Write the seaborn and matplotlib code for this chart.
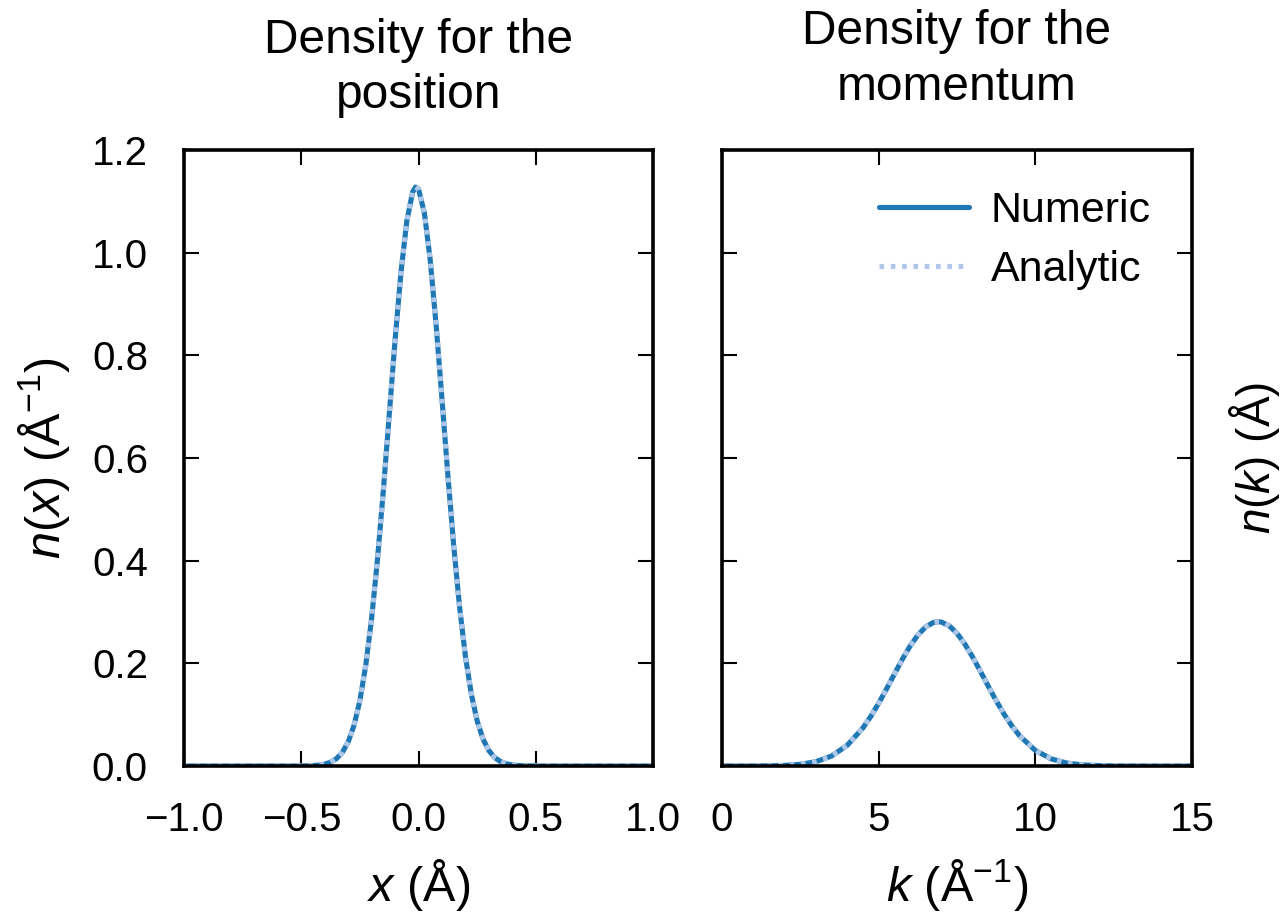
import matplotlib
matplotlib.use("Agg")
import matplotlib.pyplot as plt
import seaborn as sns
import pandas as pd

# ---- data ----
x_pos = [-1.0, -0.5, -0.45, -0.425, -0.40, -0.375, -0.35, -0.325, -0.30, -0.275, -0.25,
         -0.225, -0.20, -0.175, -0.15, -0.125, -0.10, -0.075, -0.05, -0.025, -0.0125,
         0.0, 0.025, 0.05, 0.075, 0.10, 0.125, 0.15, 0.175, 0.20, 0.225, 0.25, 0.275,
         0.30, 0.325, 0.35, 0.375, 0.40, 0.425, 0.45, 0.5, 1.0]
n_pos_numeric = [0.0, 0.0, 0.0007, 0.0017, 0.0036, 0.0073, 0.0143, 0.0265, 0.0469, 0.0793,
                 0.1278, 0.1965, 0.2881, 0.4031, 0.5376, 0.6842, 0.8305, 0.9615, 1.0618,
                 1.1184, 1.1277, 1.1237, 1.0770, 0.9844, 0.8584, 0.7139, 0.5664, 0.4285,
                 0.3093, 0.2130, 0.1399, 0.0876, 0.0523, 0.0298, 0.0162, 0.0084, 0.0042,
                 0.0020, 0.0009, 0.0004, 0.0, 0.0]
n_pos_analytic = list(n_pos_numeric)

k_mom = [0.0, 0.5, 1.0, 1.5, 2.0, 2.5, 3.0, 3.5, 4.0, 4.5, 4.75, 5.0, 5.25, 5.5, 5.75,
         6.0, 6.25, 6.5, 6.75, 6.9, 7.0, 7.25, 7.5, 7.75, 8.0, 8.25, 8.5, 8.75, 9.0,
         9.25, 9.5, 10.0, 10.5, 11.0, 11.5, 12.0, 12.5, 13.0, 14.0, 15.0]
n_mom_numeric = [0.0, 0.0, 0.0001, 0.0003, 0.0011, 0.0032, 0.0083, 0.0194, 0.0402, 0.0741,
                 0.0964, 0.1219, 0.1497, 0.1785, 0.2069, 0.2330, 0.2548, 0.2708, 0.2795,
                 0.2810, 0.2804, 0.2732, 0.2586, 0.2377, 0.2124, 0.1843, 0.1554, 0.1273,
                 0.1013, 0.0783, 0.0588, 0.0304, 0.0140, 0.0057, 0.0021, 0.0007, 0.0002,
                 0.0001, 0.0, 0.0]
n_mom_analytic = list(n_mom_numeric)

x_ticks = [-1.0, -0.5, 0.0, 0.5, 1.0]
k_ticks = [0, 5, 10, 15]
y_ticks = [0.0, 0.2, 0.4, 0.6, 0.8, 1.0, 1.2]

titles = ["Density for the\nposition", "Density for the\nmomentum"]
legend_labels = ["Numeric", "Analytic"]

# ---- styling ----
sns.set_theme(style="ticks")
plt.rcParams["font.family"] = ["Liberation Sans", "DejaVu Sans"]
plt.rcParams["mathtext.fontset"] = "custom"
plt.rcParams["mathtext.rm"] = "Liberation Sans"
plt.rcParams["mathtext.it"] = "Liberation Sans:italic"
plt.rcParams["axes.unicode_minus"] = True
for key in ["text.color", "axes.labelcolor", "xtick.color", "ytick.color",
            "xtick.labelcolor", "ytick.labelcolor", "axes.edgecolor"]:
    plt.rcParams[key] = "black"

dark = "#1f77b4"
light = "#aec7e8"

fig = plt.figure(figsize=(12.8, 9.16), dpi=100)
ax1 = fig.add_axes([0.1438, 0.1638, 0.3664, 0.6725])
ax2 = fig.add_axes([0.564, 0.1638, 0.3672, 0.6725])

df_pos = pd.DataFrame({"x": x_pos, "num": n_pos_numeric, "ana": n_pos_analytic})
df_mom = pd.DataFrame({"k": k_mom, "num": n_mom_numeric, "ana": n_mom_analytic})

sns.lineplot(data=df_pos, x="x", y="num", ax=ax1, color=dark, linewidth=3.7,
             label=legend_labels[0], legend=False)
sns.lineplot(data=df_pos, x="x", y="ana", ax=ax1, color=light, linewidth=3.7,
             linestyle=(0, (0.9, 1.3)), label=legend_labels[1], legend=False)
sns.lineplot(data=df_mom, x="k", y="num", ax=ax2, color=dark, linewidth=3.7,
             label=legend_labels[0])
sns.lineplot(data=df_mom, x="k", y="ana", ax=ax2, color=light, linewidth=3.7,
             linestyle=(0, (0.9, 1.3)), label=legend_labels[1])

for ax in (ax1, ax2):
    ax.set_ylim(0, 1.2)
    ax.set_yticks(y_ticks)
    for s in ax.spines.values():
        s.set_linewidth(2.6)
        s.set_color("black")
    ax.tick_params(direction="in", top=True, right=True, length=11, width=1.5,
                   labelsize=29, colors="black")
    ax.tick_params(axis="x", pad=25)
    ax.tick_params(axis="y", pad=26)

ax1.set_xlim(-1, 1)
ax1.set_xticks(x_ticks)
ax1.set_yticklabels([f"{v:.1f}" for v in y_ticks])
ax2.set_xlim(0, 15)
ax2.set_xticks(k_ticks)
ax2.tick_params(labelleft=False)

ax1.set_xlabel(r"$x$ (Å)", fontsize=35, labelpad=13)
ax2.set_xlabel(r"$k$ (Å$^{-1}$)", fontsize=35, labelpad=13)
ax1.set_ylabel(r"$n(x)$ (Å$^{-1}$)", fontsize=35, labelpad=14)
ax2.yaxis.set_label_position("right")
ax2.set_ylabel(r"$n(k)$ (Å)", fontsize=33, labelpad=25, rotation=90)

ax1.set_title(titles[0], fontsize=34.5, pad=30, linespacing=1.3)
ax2.set_title(titles[1], fontsize=34.5, pad=36, linespacing=1.3)

leg = ax2.legend(loc="upper right", frameon=False, fontsize=31, handlelength=2.1,
                 handletextpad=0.5, borderaxespad=0.55, labelspacing=0.45)

fig.savefig("out.png", dpi=100)
